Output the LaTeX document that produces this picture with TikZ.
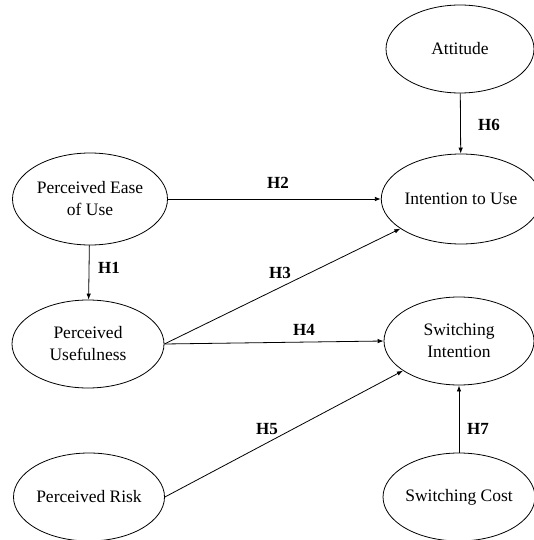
\documentclass[tikz,border=0pt]{standalone}
\usepackage{fontspec}
\setmainfont{Liberation Serif}
\usetikzlibrary{arrows.meta,shapes.geometric}

\begin{document}
\begin{tikzpicture}[x=1pt, y=-1pt, >={Latex[length=6pt,width=4.5pt]}, line width=0.8pt,
    construct/.style={draw, ellipse, inner sep=0pt, align=center,
      font=\fontsize{17.5}{22}\selectfont},
    hyp/.style={font=\fontsize{17}{20}\selectfont\bfseries}]
  \useasboundingbox (0,0) rectangle (534,540);
  % Constructs
  \node[construct, minimum width=148, minimum height=88] (att) at (460,49) {Attitude};
  \node[construct, minimum width=155, minimum height=92] (peou) at (90,199) {Perceived Ease\\of Use};
  \node[construct, minimum width=148, minimum height=90] (itu) at (461,199) {Intention to Use};
  \node[construct, minimum width=152, minimum height=88] (pu) at (88,344) {Perceived\\Usefulness};
  \node[construct, minimum width=150, minimum height=88] (si) at (459,341) {Switching\\Intention};
  \node[construct, minimum width=151, minimum height=88] (pr) at (89,497) {Perceived Risk};
  \node[construct, minimum width=150, minimum height=88] (sc) at (459,497) {Switching Cost};
  % Hypothesised paths
  \draw[->] (peou) -- (pu);
  \draw[->] (peou.east) -- (itu.west);
  \draw[->] (pu.east) -- (itu);
  \draw[->] (pu.east) -- (si.west);
  \draw[->] (pr.east) -- (si);
  \draw[->] (att) -- (itu);
  \draw[->] (sc) -- (si);
  % Path labels
  \node[hyp] (h1) at (109,268) {H1};
  \node[hyp] (h2) at (278,183) {H2};
  \node[hyp] (h3) at (280,273) {H3};
  \node[hyp] (h4) at (304,330) {H4};
  \node[hyp] (h5) at (267,429) {H5};
  \node[hyp] (h6) at (489,125) {H6};
  \node[hyp] (h7) at (478,429) {H7};
\end{tikzpicture}
\end{document}
